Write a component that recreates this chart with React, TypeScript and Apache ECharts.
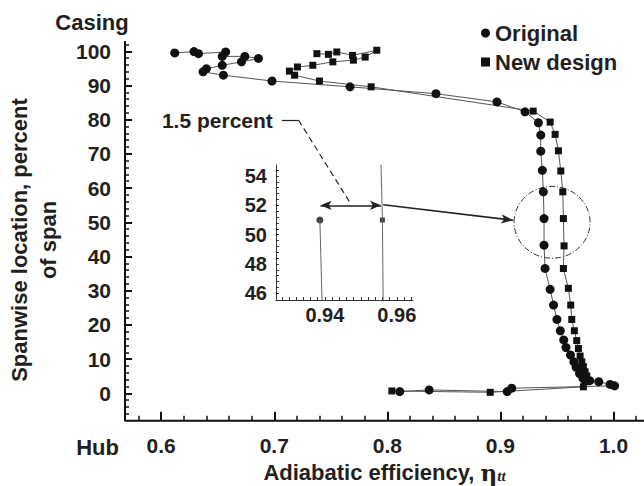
import React, { useEffect, useRef } from "react";
import * as echarts from "echarts";

// ---------- data ----------
const seriesNames = ["Original", "New design"];

// Original blade: [adiabatic efficiency, spanwise location %] (hub -> casing)
const originalData: number[][] = [
  [0.811, 0.5], [0.837, 1.0], [0.906, 0.5], [0.910, 1.5], [1.001, 2.2],
  [0.997, 2.6], [0.987, 3.4], [0.979, 3.7], [0.973, 4.4], [0.970, 5.8],
  [0.967, 7.6], [0.965, 9.2], [0.962, 11.2], [0.958, 13.4], [0.956, 15.6],
  [0.953, 18.3], [0.950, 21.6], [0.947, 25.8], [0.944, 30.4], [0.9395, 36.5],
  [0.9386, 43.3], [0.9386, 51.1], [0.938, 58.9], [0.9371, 65.2], [0.9357, 70.8],
  [0.9357, 75.5], [0.9336, 79.1], [0.9218, 82.3], [0.897, 85.2], [0.843, 87.6],
  [0.767, 89.6], [0.698, 91.3], [0.655, 93.0], [0.637, 94.0], [0.640, 94.9],
  [0.654, 95.9], [0.671, 96.9], [0.686, 97.9], [0.674, 98.5], [0.654, 98.5],
  [0.657, 99.8], [0.633, 99.3], [0.629, 99.9], [0.612, 99.5],
];

// New design blade
const newDesignData: number[][] = [
  [0.804, 0.7], [0.891, 0.3], [0.9734, 1.9], [0.9749, 3.4], [0.9764, 5.1],
  [0.9749, 6.3], [0.9734, 7.8], [0.972, 9.2], [0.9705, 10.9], [0.969, 13.1],
  [0.9675, 15.4], [0.9654, 18.3], [0.9631, 21.6], [0.9622, 25.8], [0.9601, 30.7],
  [0.9557, 36.5], [0.9563, 43.1], [0.9557, 51.1], [0.9552, 58.9], [0.9534, 65.0],
  [0.9513, 70.9], [0.9484, 75.7], [0.944, 79.3], [0.929, 82.5], [0.7857, 89.6],
  [0.740, 91.3], [0.718, 93.0], [0.7134, 94.2], [0.7205, 95.4], [0.7341, 95.9],
  [0.7518, 96.9], [0.770, 97.4], [0.7804, 98.3], [0.7907, 100.3], [0.7692, 98.8],
  [0.7553, 99.8], [0.7479, 99.1], [0.7377, 99.3],
];

// Inset (zoom near midspan)
const originalInsetPoint = [0.9386, 51.0];
const originalInsetLine = [[0.9392, 45.5], [0.9386, 51.0]];
const newInsetPoint = [0.956, 51.0];
const newInsetLine = [[0.9562, 45.5], [0.956, 51.0], [0.9556, 54.8]];

// Axis ticks / labels
const xMajorTicks = [0.6, 0.7, 0.8, 0.9, 1.0];
const xMinorTicks = [0.58, 0.62, 0.64, 0.66, 0.68, 0.72, 0.74, 0.76, 0.78, 0.82, 0.84, 0.86, 0.88, 0.92, 0.94, 0.96, 0.98, 1.02];
const yMajorTicks = [0, 10, 20, 30, 40, 50, 60, 70, 80, 90, 100];
const yMinorTicks = [-6, -4, -2, 2, 4, 6, 8, 12, 14, 16, 18, 22, 24, 26, 28, 32, 34, 36, 38, 42, 44, 46, 48, 52, 54, 56, 58, 62, 64, 66, 68, 72, 74, 76, 78, 82, 84, 86, 88, 92, 94, 96, 98, 102];
const insetXLabels = [0.94, 0.96];
const insetXMinorTicks = [0.928, 0.93, 0.932, 0.934, 0.936, 0.938, 0.94, 0.942, 0.944, 0.946, 0.948, 0.95, 0.952, 0.954, 0.956, 0.958, 0.96, 0.962, 0.964];
const insetYLabels = [46, 48, 50, 52, 54];
const insetYMinorTicks = [46, 46.4, 46.8, 47.2, 47.6, 48, 48.4, 48.8, 49.2, 49.6, 50, 50.4, 50.8, 51.2, 51.6, 52, 52.4, 52.8, 53.2, 53.6, 54, 54.4];

// Annotations (data coordinates)
const diffArrow = [[0.9388, 52], [0.9556, 52]];
const leaderSolid = [[0.7067, 79.9], [0.7214, 79.9]];
const leaderDashed = [[0.7214, 79.9], [0.7671, 55.7]];
const zoomArrow = [[0.7963, 55.1], [0.9113, 50.6]];
const ellipseCenter = [0.9457, 50.0];
const ellipseHalf = [0.0336, 10.5];
const leaderText = "1.5 percent";

const X_RANGE = [0.568, 1.027];
const Y_RANGE = [-8, 103];
const INSET_X_RANGE = [0.9264, 0.9645];
const INSET_Y_RANGE = [45.54, 54.75];

const FONT = "'Liberation Sans', Arial, Helvetica, sans-serif";
const TXT = "#231f20";
const AXIS_COLOR = "#111";

export default function App() {
  const ref = useRef<HTMLDivElement>(null);
  useEffect(() => {
    document.body.style.margin = "0";
    if (!ref.current) return;
    const chart = echarts.init(ref.current, undefined, { renderer: "svg" });

    const labelStyle = { fontSize: 21, fontWeight: "bold" as const, color: TXT, fontFamily: FONT };
    const insetLabelStyle = { fontSize: 20, fontWeight: "bold" as const, color: TXT, fontFamily: FONT };
    const mainRect = { left: 125, top: 41, width: 519, height: 379.7, outerBoundsMode: "none", containLabel: false };
    const hiddenAxis = { axisLine: { show: false, onZero: false }, axisTick: { show: false }, axisLabel: { show: false }, splitLine: { show: false } };

    // tick lengths expressed in axis units (9 px / 7 px)
    const yPerPx = (Y_RANGE[1] - Y_RANGE[0]) / mainRect.height;
    const xPerPx = (X_RANGE[1] - X_RANGE[0]) / mainRect.width;
    const frameData = [[X_RANGE[0], Y_RANGE[1]], [X_RANGE[0], Y_RANGE[0]], [X_RANGE[1], Y_RANGE[0]]];
    const tickStyle = { type: "solid", color: AXIS_COLOR, width: 2 };
    const majorTickLines = [
      ...xMajorTicks.map(v => [
        { coord: [v, Y_RANGE[0]], symbol: "none", lineStyle: tickStyle },
        { coord: [v, Y_RANGE[0] + 9 * yPerPx], symbol: "none", lineStyle: tickStyle },
      ]),
      ...yMajorTicks.map(v => [
        { coord: [X_RANGE[0], v], symbol: "none", lineStyle: tickStyle },
        { coord: [X_RANGE[0] + 7 * xPerPx, v], symbol: "none", lineStyle: tickStyle },
      ]),
    ];

    const option: any = {
      animation: false,
      backgroundColor: "#ffffff",
      textStyle: { fontFamily: FONT },
      legend: {
        orient: "vertical",
        left: 476,
        top: 17,
        itemWidth: 9,
        itemHeight: 9,
        itemGap: 7,
        data: [
          { name: seriesNames[0], icon: "circle" },
          { name: seriesNames[1], icon: "rect" },
        ],
        textStyle: { fontSize: 22, fontWeight: "bold", color: TXT, fontFamily: FONT },
        selectedMode: false,
      },
      grid: [
        { ...mainRect },
        { left: 276, top: 165, width: 137, height: 135, outerBoundsMode: "none", containLabel: false },
        { ...mainRect },
      ],
      xAxis: [
        {
          gridIndex: 0, type: "value", min: X_RANGE[0], max: X_RANGE[1], position: "bottom",
          ...hiddenAxis,
          axisLabel: { show: true, customValues: xMajorTicks, formatter: (v: number) => v.toFixed(1), margin: 14, ...labelStyle },
          name: "{a|Adiabatic efficiency, }{e|η}{s|tt}",
          nameLocation: "middle",
          nameGap: 38,
          nameTextStyle: {
            rich: {
              a: { fontSize: 22, fontWeight: "bold", color: TXT, fontFamily: FONT, lineHeight: 23 },
              e: { fontSize: 23, fontWeight: "bold", color: TXT, fontFamily: "'DejaVu Serif', 'Liberation Serif', serif", lineHeight: 23 },
              s: { fontSize: 15, fontWeight: "bold", fontStyle: "italic", color: TXT, fontFamily: "'Liberation Serif', serif", lineHeight: 13, verticalAlign: "bottom" },
            },
          },
        },
        {
          gridIndex: 1, type: "value", min: INSET_X_RANGE[0], max: INSET_X_RANGE[1], position: "bottom",
          axisLine: { show: true, onZero: false, lineStyle: { color: "#333", width: 1 } },
          axisTick: { show: true, inside: true, length: 3, lineStyle: { color: "#333", width: 1 }, customValues: insetXMinorTicks },
          axisLabel: { show: true, customValues: insetXLabels, formatter: (v: number) => v.toFixed(2), margin: 5, ...insetLabelStyle },
          splitLine: { show: false },
        },
        {
          gridIndex: 2, type: "value", min: X_RANGE[0], max: X_RANGE[1], position: "bottom",
          axisLine: { show: false, onZero: false },
          axisTick: { show: true, inside: true, length: 5, lineStyle: { color: AXIS_COLOR, width: 1.5 }, customValues: xMinorTicks },
          axisLabel: { show: false },
          splitLine: { show: false },
        },
      ],
      yAxis: [
        {
          gridIndex: 0, type: "value", min: Y_RANGE[0], max: Y_RANGE[1], position: "left",
          ...hiddenAxis,
          axisLabel: { show: true, customValues: yMajorTicks, margin: 14, ...labelStyle },
        },
        {
          gridIndex: 1, type: "value", min: INSET_Y_RANGE[0], max: INSET_Y_RANGE[1], position: "left",
          axisLine: { show: true, onZero: false, lineStyle: { color: "#333", width: 1 } },
          axisTick: { show: true, inside: true, length: 3, lineStyle: { color: "#333", width: 1 }, customValues: insetYMinorTicks },
          axisLabel: { show: true, customValues: insetYLabels, margin: 9, ...insetLabelStyle },
          splitLine: { show: false },
        },
        {
          gridIndex: 2, type: "value", min: Y_RANGE[0], max: Y_RANGE[1], position: "left",
          axisLine: { show: false, onZero: false },
          axisTick: { show: true, inside: true, length: 4, lineStyle: { color: AXIS_COLOR, width: 1.5 }, customValues: yMinorTicks },
          axisLabel: { show: false },
          splitLine: { show: false },
        },
      ],
      series: [
        {
          name: "axis frame", type: "line", xAxisIndex: 0, yAxisIndex: 0,
          data: frameData, symbol: "none", clip: false, silent: true, z: 3,
          lineStyle: { color: AXIS_COLOR, width: 2 },
          markLine: { silent: true, label: { show: false }, animation: false, data: majorTickLines },
        },
        {
          name: seriesNames[0], type: "line", xAxisIndex: 0, yAxisIndex: 0,
          data: originalData, symbol: "circle", symbolSize: 9,
          itemStyle: { color: "#111" }, lineStyle: { color: "#555", width: 1 },
          markLine: {
            silent: true, label: { show: false }, animation: false,
            data: [
              [
                { coord: leaderSolid[0], symbol: "none", lineStyle: { type: "solid", color: "#222", width: 1.2 } },
                { coord: leaderSolid[1], symbol: "none", lineStyle: { type: "solid", color: "#222", width: 1.2 } },
              ],
              [
                { coord: leaderDashed[0], symbol: "none", lineStyle: { type: [6, 4], color: "#222", width: 1.2 } },
                { coord: leaderDashed[1], symbol: "none", lineStyle: { type: [6, 4], color: "#222", width: 1.2 } },
              ],
              [
                { coord: zoomArrow[0], symbol: "none", lineStyle: { type: "solid", color: "#222", width: 1.5 } },
                { coord: zoomArrow[1], symbol: "arrow", symbolSize: [7, 12], lineStyle: { type: "solid", color: "#222", width: 1.5 } },
              ],
            ],
          },
        },
        {
          name: seriesNames[1], type: "line", xAxisIndex: 0, yAxisIndex: 0,
          data: newDesignData, symbol: "rect", symbolSize: 7,
          itemStyle: { color: "#111" }, lineStyle: { color: "#555", width: 1 },
        },
        {
          name: seriesNames[0], type: "line", xAxisIndex: 1, yAxisIndex: 1,
          data: originalInsetLine, symbol: "none",
          lineStyle: { color: "#666", width: 1 }, itemStyle: { color: "#111" },
        },
        {
          name: seriesNames[0], type: "scatter", xAxisIndex: 1, yAxisIndex: 1,
          data: [originalInsetPoint], symbol: "circle", symbolSize: 7,
          itemStyle: { color: "#111" },
        },
        {
          name: seriesNames[1], type: "line", xAxisIndex: 1, yAxisIndex: 1,
          data: newInsetLine, symbol: "none",
          lineStyle: { color: "#666", width: 1 }, itemStyle: { color: "#111" },
          markLine: {
            silent: true, label: { show: false }, animation: false,
            data: [
              [
                { coord: diffArrow[0], symbol: "arrow", symbolSize: [7, 11], lineStyle: { type: "solid", color: "#222", width: 1.5 } },
                { coord: diffArrow[1], symbol: "arrow", symbolSize: [7, 11], lineStyle: { type: "solid", color: "#222", width: 1.5 } },
              ],
            ],
          },
        },
        {
          name: seriesNames[1], type: "scatter", xAxisIndex: 1, yAxisIndex: 1,
          data: [newInsetPoint], symbol: "rect", symbolSize: 5,
          itemStyle: { color: "#111" },
        },
      ],
    };

    chart.setOption(option);

    const toPx = (p: number[]) => chart.convertToPixel({ xAxisIndex: 0, yAxisIndex: 0 }, p) as number[];
    const c = toPx(ellipseCenter);
    const e1 = toPx([ellipseCenter[0] + ellipseHalf[0], ellipseCenter[1] + ellipseHalf[1]]);
    const lt = toPx(leaderSolid[0]);

    chart.setOption({
      graphic: [
        {
          type: "ellipse",
          shape: { cx: c[0], cy: c[1], rx: Math.abs(e1[0] - c[0]), ry: Math.abs(e1[1] - c[1]) },
          style: { fill: "none", stroke: "#333", lineWidth: 1, lineDash: [6, 2, 1, 2] },
          silent: true,
        },
        {
          type: "text", x: lt[0] - 9, y: lt[1],
          style: { text: leaderText, align: "right", verticalAlign: "middle", fontSize: 21, fontWeight: "bold", fill: TXT, fontFamily: FONT },
        },
        {
          type: "text", x: 92, y: 22,
          style: { text: "Casing", align: "center", verticalAlign: "middle", fontSize: 22, fontWeight: "bold", fill: TXT, fontFamily: FONT },
        },
        {
          type: "text", x: 119, y: 447,
          style: { text: "Hub", align: "right", verticalAlign: "middle", fontSize: 22, fontWeight: "bold", fill: TXT, fontFamily: FONT },
        },
        {
          type: "text", x: 34, y: 240, rotation: Math.PI / 2,
          style: {
            text: "Spanwise location, percent\nof span", align: "center", verticalAlign: "middle",
            fontSize: 22, fontWeight: "bold", fill: TXT, fontFamily: FONT, lineHeight: 29,
          },
        },
      ],
    });

    return () => chart.dispose();
  }, []);

  return <div ref={ref} style={{ width: 644, height: 486 }} />;
}
